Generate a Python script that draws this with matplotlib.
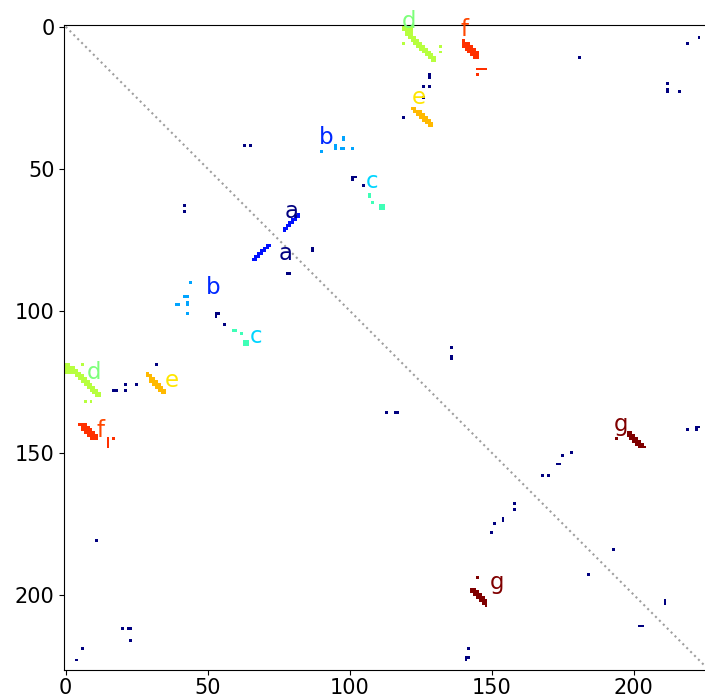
import numpy as np
import matplotlib
matplotlib.use("Agg")
import matplotlib.pyplot as plt

# Size of the square contact map (residues 0..N-1)
N = 227

# Helix labels, drawn in the same order as their contact values 1..7
helix_names = ["a", "b", "c", "d", "e", "f", "g"]

# Contacts are listed once as (i, j) with i < j and mirrored below the diagonal.
# Contacts that belong to no labelled helix (value 0)
other_contacts = [
    (4, 223), (6, 219), (11, 181), (20, 212), (22, 212), (23, 212), (23, 216),
    (17, 128), (18, 128), (21, 126), (21, 128), (25, 126), (32, 119),
    (42, 63), (42, 65), (53, 101), (53, 102), (54, 101), (56, 105),
    (78, 87), (79, 87), (113, 136), (116, 136), (117, 136),
    (142, 219), (141, 222), (141, 223), (142, 222),
    (150, 178), (151, 175), (154, 173), (154, 174), (158, 168), (158, 170),
    (184, 193), (202, 211), (203, 211),
]

helix_a = [(66, 82), (67, 81), (67, 82), (68, 80), (68, 81), (69, 79),
           (69, 80), (70, 78), (70, 79), (71, 77), (71, 78), (72, 77)]
helix_b = [(44, 90), (43, 95), (42, 95), (43, 97), (43, 98), (39, 98), (40, 98),
           (43, 101)]
helix_c = [(59, 107), (60, 107), (62, 108), (63, 111), (63, 112), (64, 111),
           (64, 112)]
helix_d = [(0, 119), (0, 120), (0, 121), (0, 122), (1, 119), (1, 120),
           (1, 121), (1, 122), (2, 120), (2, 121), (2, 122), (3, 120),
           (3, 121), (3, 122),
           (4, 121), (4, 122), (4, 123), (5, 122), (5, 123), (5, 124),
           (6, 123), (6, 124), (6, 125), (7, 124), (7, 125), (7, 126),
           (8, 125), (8, 126), (8, 127), (9, 126), (9, 127), (9, 128),
           (10, 127), (10, 128), (10, 129), (11, 128), (11, 129), (11, 130),
           (12, 129), (12, 130),
           (6, 119), (7, 132), (9, 132)]
helix_e = [(29, 122), (29, 123), (30, 123), (30, 124), (30, 125), (31, 124),
           (31, 125), (31, 126), (32, 125), (32, 126), (32, 127), (33, 126),
           (33, 127), (33, 128), (34, 127), (34, 128), (34, 129), (35, 128),
           (35, 129)]
helix_f = [(5, 140), (6, 140), (6, 141), (6, 142), (7, 140), (7, 141),
           (7, 142), (7, 143), (8, 141), (8, 142), (8, 143), (8, 144),
           (9, 142), (9, 143), (9, 144), (9, 145), (10, 143), (10, 144),
           (10, 145), (11, 144), (11, 145),
           (15, 145), (15, 146), (15, 147), (15, 148), (17, 145)]
helix_g = [(143, 198), (143, 199), (144, 198), (144, 199), (144, 200),
           (145, 199), (145, 200), (145, 201), (146, 200), (146, 201),
           (146, 202), (147, 201), (147, 202), (147, 203), (148, 202),
           (148, 203), (148, 204), (145, 194)]

helices = [helix_a, helix_b, helix_c, helix_d, helix_e, helix_f, helix_g]

# Text anchors (column, row of baseline) for each helix label, above and below the diagonal
label_upper = [(79.4, 67.3), (91.7, 41.2), (108.0, 56.7), (121.0, 0.3),
               (124.3, 27.1), (140.3, 3.2), (195.4, 142.3)]
label_lower = [(77.5, 82.0), (51.8, 94.1), (66.9, 111.2), (9.9, 124.0),
               (37.3, 127.0), (12.3, 144.6), (151.9, 197.9)]

# Build the symmetric contact matrix; empty cells stay NaN (drawn blank)
M = np.full((N, N), np.nan)
for i, j in other_contacts:
    M[i, j] = M[j, i] = 0
for k, cells in enumerate(helices):
    for i, j in cells:
        M[i, j] = M[j, i] = k + 1

W, H = 705, 697
fig = plt.figure(figsize=(W / 100, H / 100), dpi=100)
side = 644.7
ax = fig.add_axes([64.3 / W, 27.0 / H, side / W, side / H])

cmap = plt.get_cmap("jet")
ax.imshow(M, cmap=cmap, vmin=0, vmax=len(helices), interpolation="nearest")

ax.plot([0, N - 1], [0, N - 1], linestyle=":", color="0.62", linewidth=1.5)

for k, name in enumerate(helix_names):
    col = cmap(k / (len(helix_names) - 1))
    for x, y in (label_upper[k], label_lower[k]):
        ax.text(x, y, name, color=col, fontsize=16.5, ha="center",
                va="baseline")

ax.set_xlim(-0.5, N - 0.5)
ax.set_ylim(N - 0.5, -0.5)
ax.set_xticks([0, 50, 100, 150, 200])
ax.set_yticks([0, 50, 100, 150, 200])
ax.tick_params(labelsize=15)
ax.tick_params(axis="x", pad=2.5)

fig.savefig("out.png", dpi=100)
